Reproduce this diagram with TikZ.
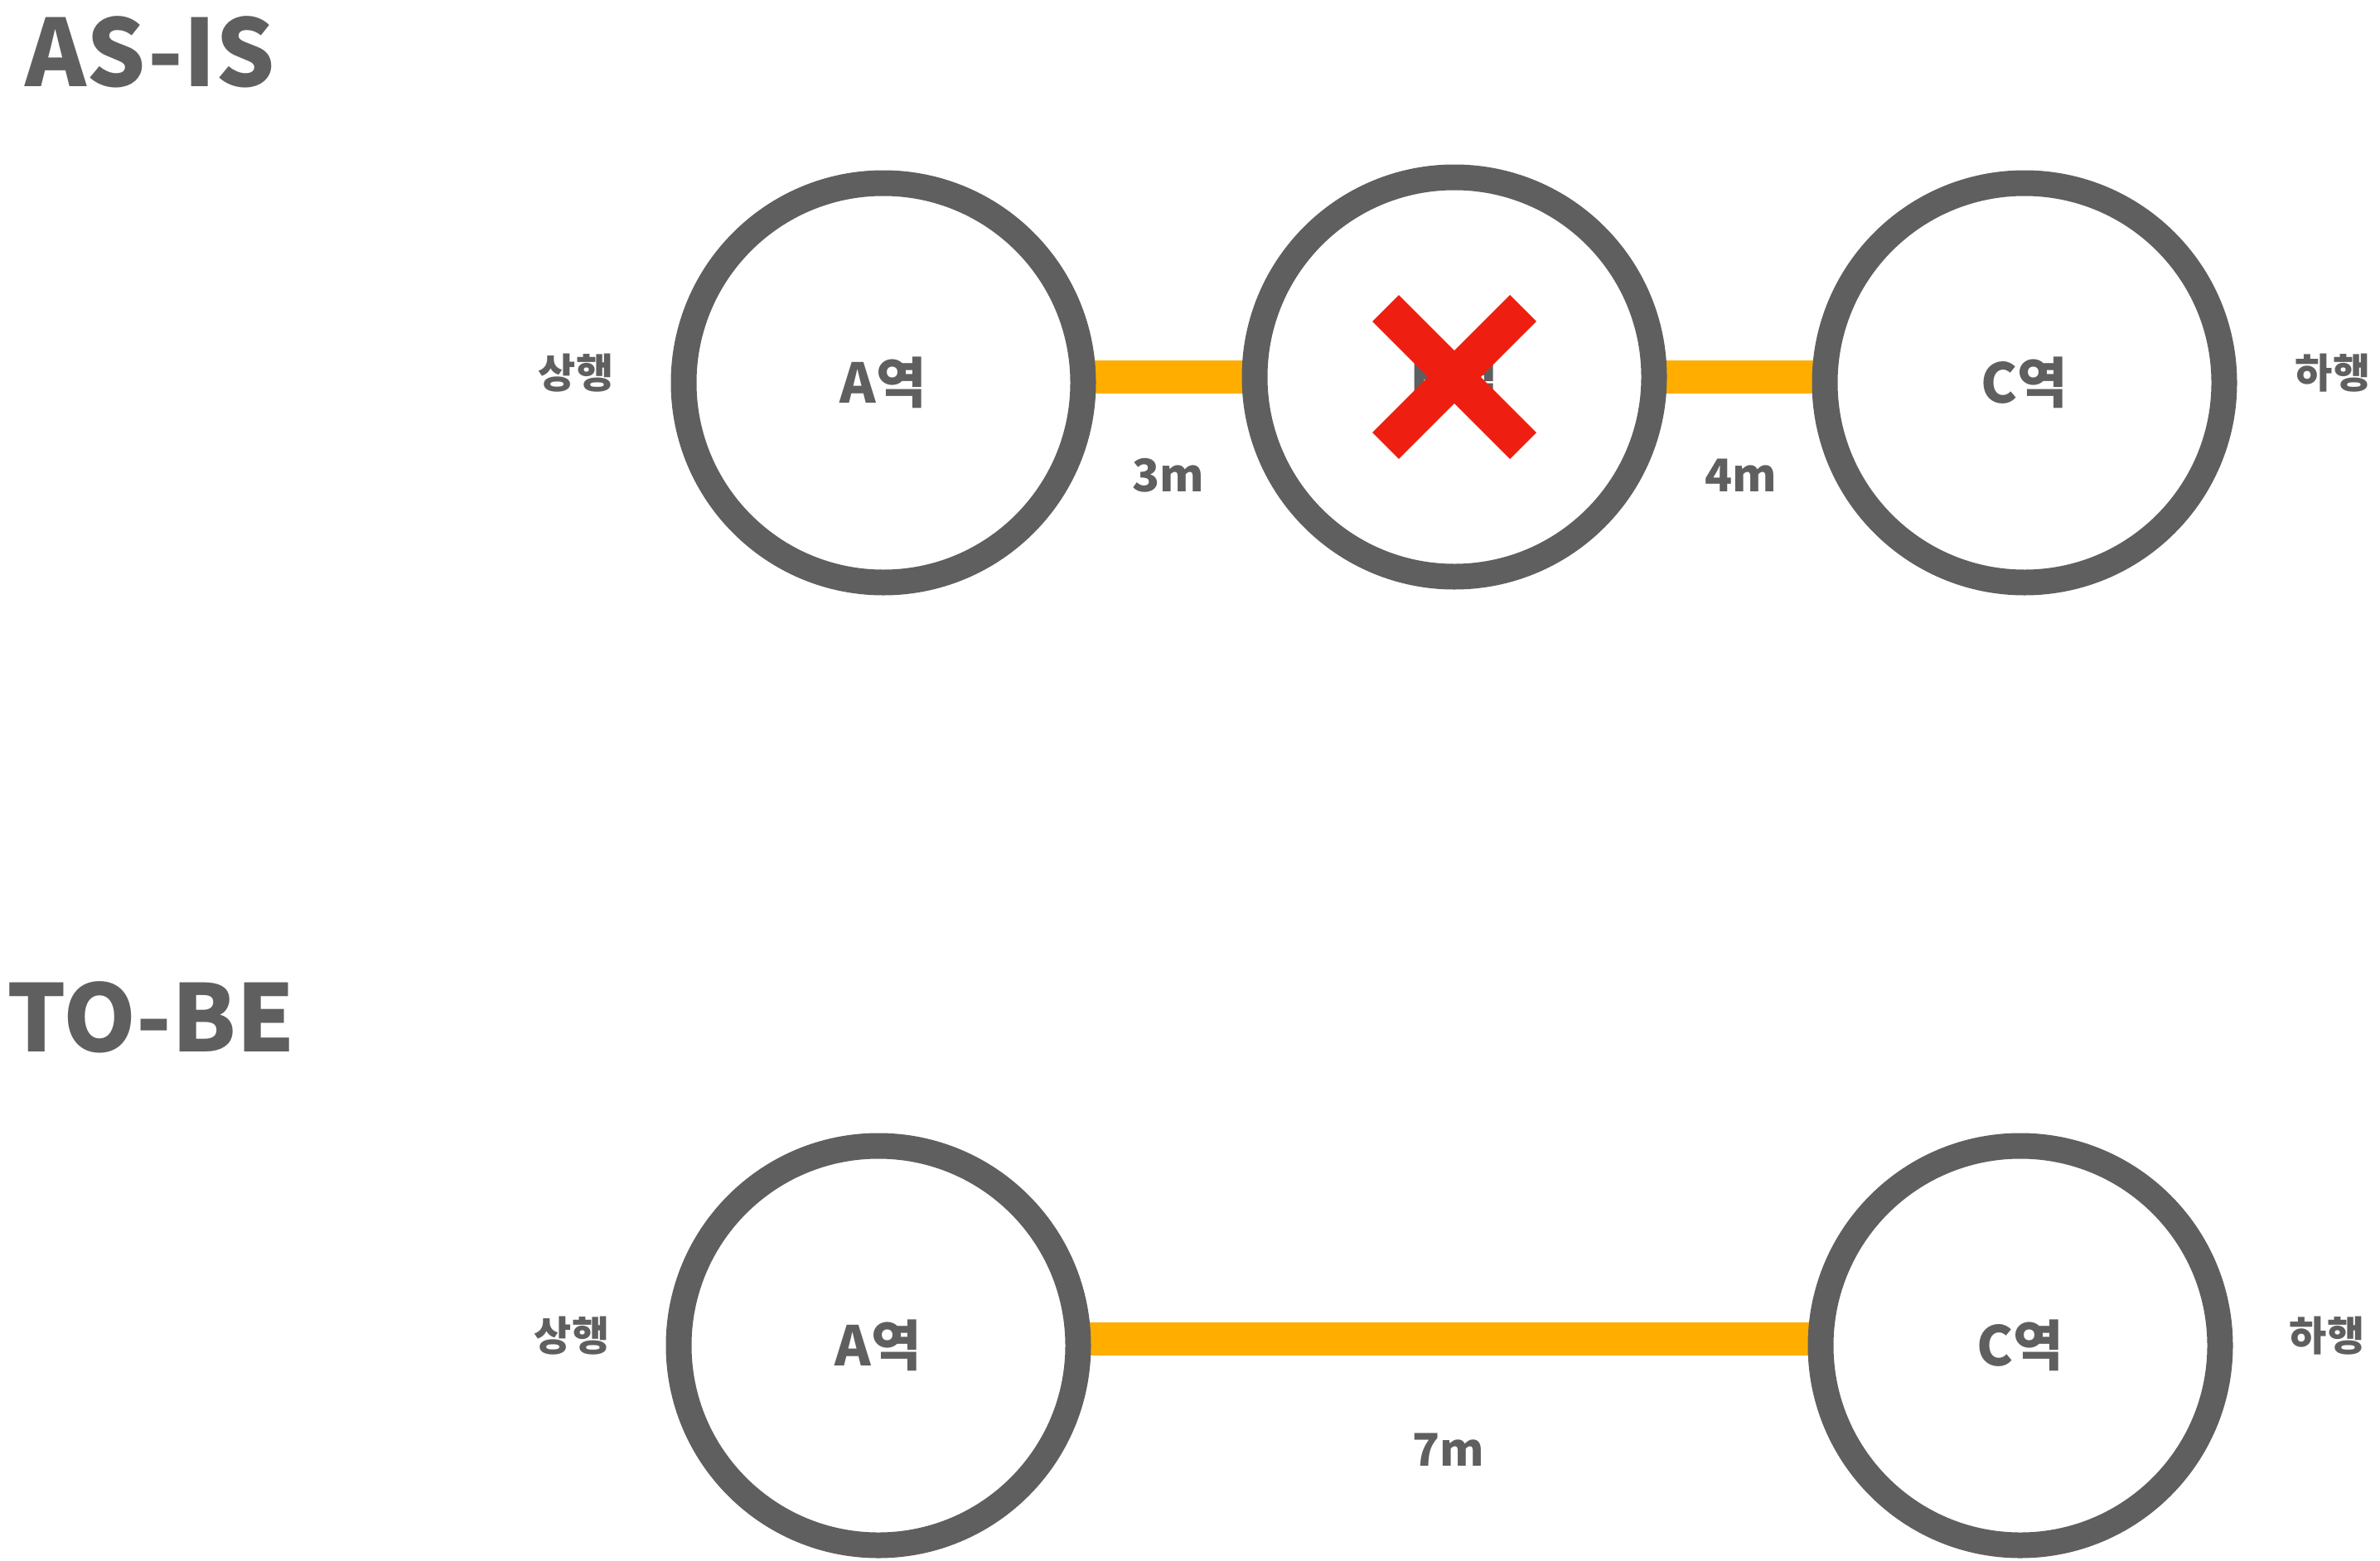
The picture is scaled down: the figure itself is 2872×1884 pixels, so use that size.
\documentclass[tikz,border=0pt]{standalone}
\usepackage{fontspec}
\newfontfamily\kr{Noto Sans CJK KR}
\usetikzlibrary{backgrounds}
\definecolor{ringgray}{HTML}{5F5F5F}
\definecolor{railorange}{HTML}{FFAE00}
\definecolor{xred}{HTML}{EE1F10}
\tikzset{
  station/.style={circle, draw=ringgray, line width=7.75pt, fill=white, minimum size=120.5pt, inner sep=0pt,
    font=\kr\bfseries\fontsize{16.5}{16.5}\selectfont, text=ringgray},
  rail/.style={draw=railorange, line width=10pt},
  dirlabel/.style={inner sep=0pt, font=\kr\bfseries\fontsize{12.3}{12.3}\selectfont, text=ringgray},
  distlabel/.style={inner sep=0pt, font=\kr\bfseries\fontsize{13.6}{13.6}\selectfont, text=ringgray},
  titlelabel/.style={inner sep=0pt, anchor=base west, font=\kr\bfseries\fontsize{28}{28}\selectfont, text=ringgray},
  xmark/.style={draw=xred, line width=11.25pt}
}
\begin{document}
\begin{tikzpicture}[x=0.25pt,y=-0.25pt]
\useasboundingbox (0,0) rectangle (2872,1884);
% titles
\node[titlelabel] (t1) at (30,105) {AS-IS};
\node[titlelabel] (t2) at (8,1269) {TO-BE};
% AS-IS stations
\node[station] (A) at (1066,462) {A역};
\node[station] (B) at (1755,455) {B역};
\node[station] (C) at (2443,462) {C역};
\begin{scope}[on background layer]
  \draw[rail] (B.center) -- (B.center -| A.center);
  \draw[rail] (B.center) -- (B.center -| C.center);
\end{scope}
\node[dirlabel] (up1) at (695,450) {상행};
\node[dirlabel] (down1) at (2815,450) {하행};
\node[distlabel] (d3) at (1410,574) {3m};
\node[distlabel] (d4) at (2101,574) {4m};
\draw[xmark] ([shift={(-83,-83)}]B.center) -- ([shift={(83,83)}]B.center);
\draw[xmark] ([shift={(-83,83)}]B.center) -- ([shift={(83,-83)}]B.center);
% TO-BE stations
\node[station] (A2) at (1060,1624) {A역};
\node[station] (C2) at (2438,1624) {C역};
\begin{scope}[on background layer]
  \draw[rail] ([yshift=2pt]A2.center) -- ([yshift=2pt]C2.center);
\end{scope}
\node[dirlabel] (up2) at (690,1612) {상행};
\node[dirlabel] (down2) at (2808,1612) {하행};
\node[distlabel] (d7) at (1748,1750) {7m};
\end{tikzpicture}
\end{document}
